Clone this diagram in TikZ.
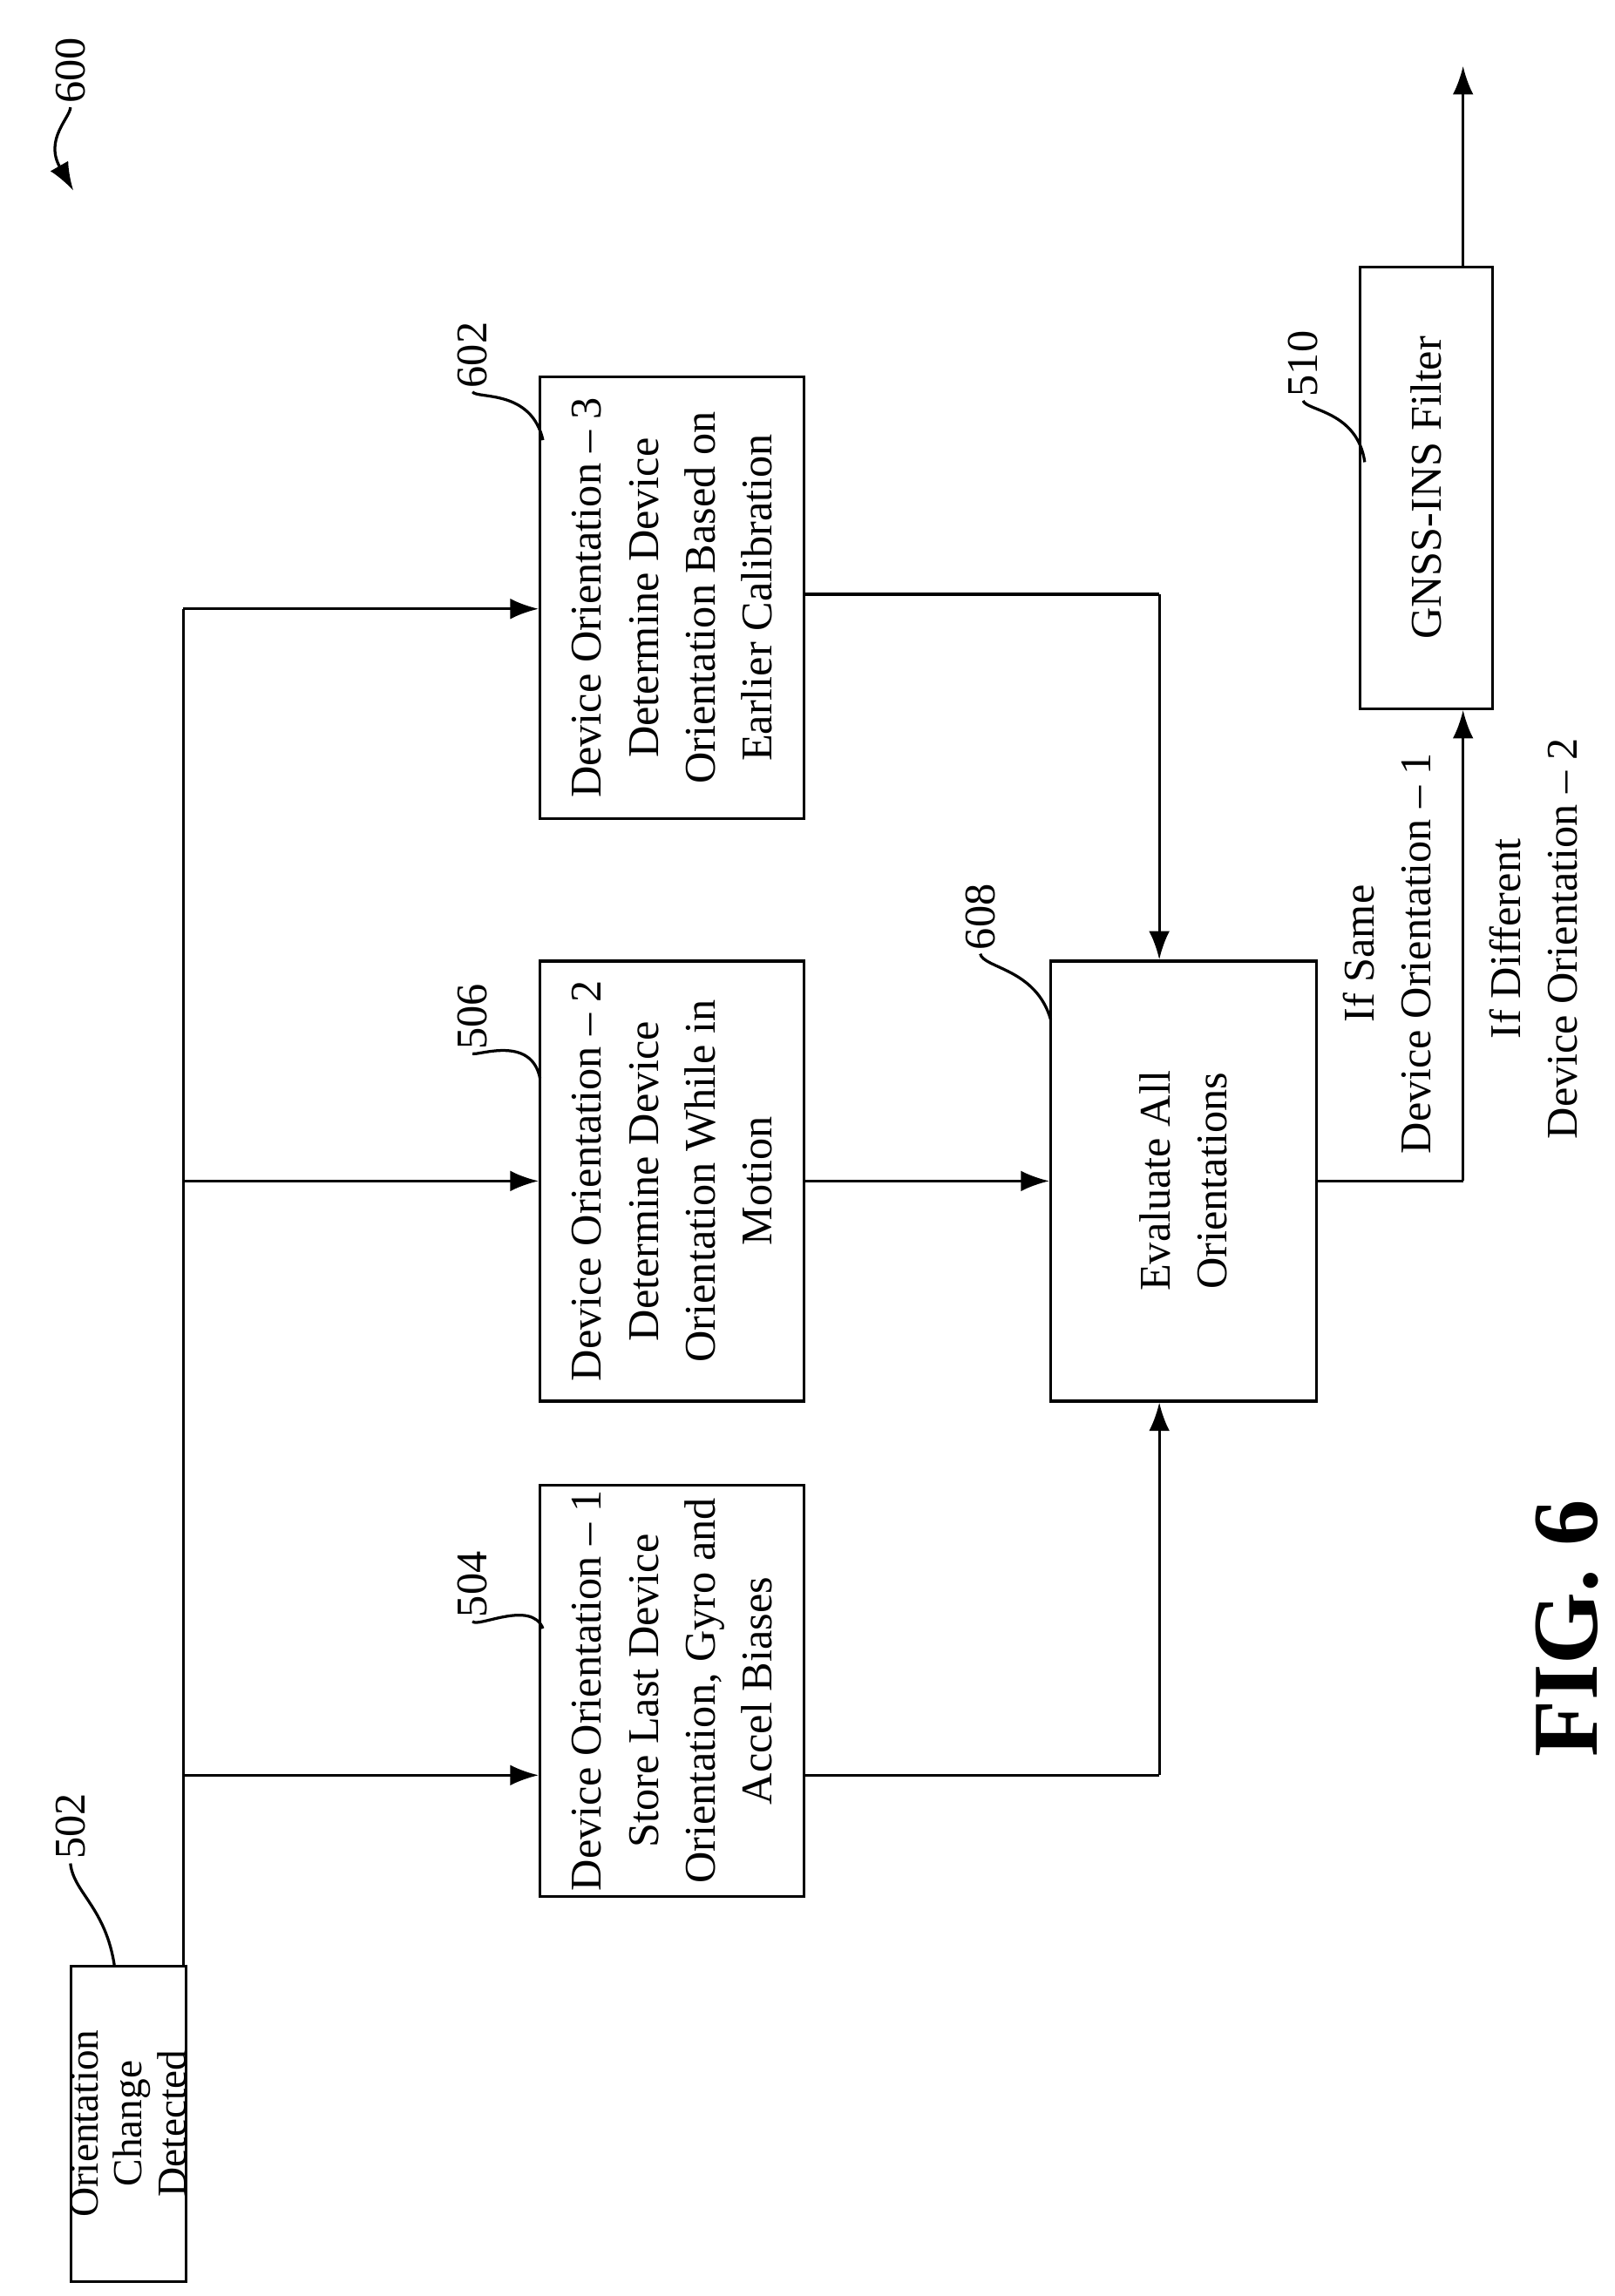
\documentclass[tikz,border=0pt]{standalone}
\usepackage{fontspec}
\setmainfont{Liberation Serif}
\usetikzlibrary{positioning,calc,arrows.meta}

\begin{document}
\begin{tikzpicture}[
  x=0.02cm,y=-0.02cm,
  block/.style={draw,line width=1.1pt,rotate=90,align=center,inner sep=2pt,
    font=\fontsize{17}{22}\selectfont},
  refnum/.style={rotate=90,font=\fontsize{17}{20}\selectfont,inner sep=1pt},
  cond/.style={rotate=90,align=center,font=\fontsize{17}{22}\selectfont},
  every path/.style={line width=1.1pt,>={Latex[length=11pt,width=8pt]}},
  ]
  \useasboundingbox (0,0) rectangle (1100,1565);
  % blocks
  \node[block,inner sep=0pt,font=\fontsize{16}{17}\selectfont,
    minimum width=4.3cm,minimum height=1.5cm] (detect) at (87.5,1447.5)
    {Orientation\\Change\\Detected};
  \node[block,minimum width=4.3cm,minimum height=3.6cm] (orientA) at (458,1152.5)
    {Device Orientation -- 1\\Store Last Device\\Orientation, Gyro and\\Accel Biases};
  \node[block,minimum width=6cm,minimum height=3.6cm] (orientB) at (458,805)
    {Device Orientation -- 2\\Determine Device\\Orientation While in\\Motion};
  \node[block,minimum width=6.02cm,minimum height=3.6cm] (orientC) at (458,407.5)
    {Device Orientation -- 3\\Determine Device\\Orientation Based on\\Earlier Calibration};
  \node[block,minimum width=6cm,minimum height=3.62cm] (evaluate) at (806.5,805)
    {Evaluate All\\Orientations};
  \node[block,minimum width=6.02cm,minimum height=1.8cm] (filter) at (972,332.5)
    {GNSS-INS Filter};
  % connectors
  \coordinate (trunk) at (125,1340);
  \coordinate (trunkTop) at (125,415);
  \draw (trunk) -- (trunkTop);
  \draw[->] (125,1210) -- (orientA.north |- 0,1210);
  \draw[->] (trunk |- orientB) -- (orientB.north);
  \draw[->] (trunkTop) -- (orientC.north |- trunkTop);
  \coordinate (outA) at (orientA.south |- 0,1210);
  \draw (outA) -- (790,1210) coordinate (joinA);
  \draw[->] (joinA) -- (joinA |- evaluate.west);
  \draw[->] (orientB.south) -- (evaluate.north);
  \coordinate (outC) at (orientC.south |- 0,405);
  \draw (outC) -- (790,405) coordinate (joinC);
  \draw[->] (joinC) -- (joinC |- evaluate.east);
  \draw (evaluate.south) -- (997,805) coordinate (joinF);
  \draw[->] (joinF) -- (joinF |- filter.west);
  \coordinate (outF) at (997,45);
  \draw[->] (joinF |- filter.east) -- (outF);
  % conditions
  \node[cond] (same) at (945,650) {If Same\\Device Orientation -- 1};
  \node[cond] (diff) at (1045,640) {If Different\\Device Orientation -- 2};
  % reference numerals
  \node[refnum] (r502) at (48,1245) {502};
  \draw (r502.west) .. controls (50,1290) and (72,1300) .. (78,1340);
  \node[refnum] (r504) at (322,1080) {504};
  \draw (r504.west) .. controls (325,1110) and (362,1090) .. (370,1110);
  \node[refnum] (r506) at (322,693) {506};
  \draw (r506.west) .. controls (325,720) and (362,705) .. (368,735);
  \node[refnum] (r602) at (322,242) {602};
  \draw (r602.west) .. controls (325,272) and (362,265) .. (370,300);
  \node[refnum] (r608) at (668,625) {608};
  \draw (r608.west) .. controls (670,660) and (706,660) .. (716,695);
  \node[refnum] (r510) at (888,248) {510};
  \draw (r510.west) .. controls (890,280) and (925,280) .. (930,315);
  \node[refnum] (r600) at (48,48) {600};
  \draw[->] (r600.west) .. controls (48,80) and (30,95) .. (50,130);
  % figure label
  \node[rotate=90,font=\bfseries\fontsize{36}{40}\selectfont] (figlabel) at (1068,1110) {FIG. 6};
\end{tikzpicture}
\end{document}
